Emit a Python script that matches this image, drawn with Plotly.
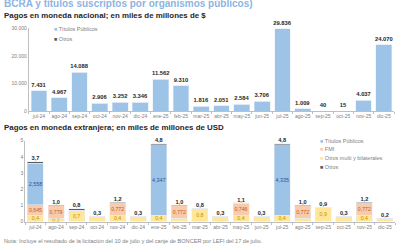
import plotly.graph_objects as go

months = ["jul-24", "ago-24", "sep-24", "oct-24", "nov-24", "dic-24", "ene-25", "feb-25", "mar-25",
          "abr-25", "may-25", "jun-25", "jul-25", "ago-25", "sep-25", "oct-25", "nov-25", "dic-25"]

# Pagos en moneda nacional (miles de millones de $)
ars_titulos = [7431, 4967, 14088, 2906, 3252, 3346, 11562, 9310, 1816,
               2051, 2584, 3706, 29836, 1009, 40, 15, 4037, 24070]
ars_otros = [0] * 18

# Pagos en moneda extranjera (miles de millones de USD)
usd_titulos = [2.558, 0, 0, 0, 0, 0, 4.347, 0, 0, 0, 0, 0, 4.335, 0, 0, 0, 0, 0]
usd_fmi = [0.645, 0.779, 0, 0, 0.772, 0, 0, 0.772, 0, 0, 0.746, 0, 0, 0.772, 0, 0, 0.772, 0]
usd_multi = [0.4, 0.2, 0.7, 0.3, 0.4, 0.3, 0.4, 0.2, 0.8, 0.3, 0.4, 0.3, 0.4, 0.2, 0.9, 0.3, 0.4, 0.2]
usd_otros = [0.1, 0.03, 0.08, 0, 0.03, 0, 0.05, 0.03, 0, 0, 0.03, 0, 0.07, 0.03, 0, 0, 0.03, 0]
usd_totales = [3.7, 1.0, 0.8, 0.3, 1.2, 0.3, 4.8, 1.0, 0.8, 0.3, 1.1, 0.3, 4.8, 1.0, 0.9, 0.3, 1.2, 0.2]
usd_multi_labels = ["0,4", "0,2", "0,7", "", "0,4", "", "0,4", "", "0,8",
                    "", "0,4", "", "0,4", "", "0,9", "", "0,4", ""]

C_BLUE = "#9DC3E6"
C_FMI = "#F8CBAD"
C_MULTI = "#FFE699"
C_OTROS = "#595959"
GRAY = "#808080"
DARK = "#262626"
FONT = "Liberation Sans"


def fmt_int(v):
    return f"{v:,}".replace(",", ".")


def fmt_dec(v, d):
    return f"{v:.{d}f}".replace(".", ",")


fig = go.Figure()

# --- Top chart ---
fig.add_trace(go.Bar(x=months, y=ars_titulos, marker_color=C_BLUE, name="Títulos Públicos",
                     xaxis="x", yaxis="y", showlegend=False,
                     text=[fmt_int(v) for v in ars_titulos], textposition="outside", textangle=0,
                     constraintext="none",
                     textfont=dict(size=5.8, color=DARK, family=FONT, weight="bold"),
                     cliponaxis=False))
fig.add_trace(go.Bar(x=months, y=ars_otros, marker_color=C_OTROS, name="Otros",
                     xaxis="x", yaxis="y", showlegend=False))

# --- Bottom chart ---
inside = dict(textposition="inside", insidetextanchor="middle", textangle=0, constraintext="none")
fig.add_trace(go.Bar(x=months, y=usd_multi, marker_color=C_MULTI, name="Otros multi y bilaterales",
                     xaxis="x2", yaxis="y2", showlegend=False, text=usd_multi_labels,
                     textfont=dict(size=5.2, color="#BF9000", family=FONT), **inside))
fig.add_trace(go.Bar(x=months, y=usd_fmi, marker_color=C_FMI, name="FMI",
                     xaxis="x2", yaxis="y2", showlegend=False,
                     text=[fmt_dec(v, 3) if v > 0 else "" for v in usd_fmi],
                     textfont=dict(size=5.2, color="#C55A11", family=FONT), **inside))
fig.add_trace(go.Bar(x=months, y=usd_titulos, marker_color=C_BLUE, name="Títulos Públicos",
                     xaxis="x2", yaxis="y2", showlegend=False,
                     text=[fmt_dec(v, 3) if v > 0 else "" for v in usd_titulos],
                     textfont=dict(size=5.4, color="#2F5597", family=FONT), **inside))
fig.add_trace(go.Bar(x=months, y=usd_otros, marker_color=C_OTROS, name="Otros",
                     xaxis="x2", yaxis="y2", showlegend=False, textposition="none"))
fig.add_trace(go.Scatter(x=months, y=usd_totales, mode="text",
                         text=[fmt_dec(v, 1) for v in usd_totales], textposition="top center",
                         textfont=dict(size=5.6, color=DARK, family=FONT, weight="bold"),
                         xaxis="x2", yaxis="y2", showlegend=False, cliponaxis=False))

axis_common = dict(showgrid=False, zeroline=False, showline=True, linecolor="#BFBFBF", linewidth=1,
                   tickfont=dict(size=5, color=GRAY, family=FONT))

fig.update_layout(
    width=400, height=250,
    margin=dict(l=0, r=0, t=0, b=0),
    paper_bgcolor="white", plot_bgcolor="white",
    barmode="stack", bargap=0.22,
    separators=",.",
    font=dict(family=FONT),
    xaxis=dict(domain=[0.072, 0.985], anchor="y", range=[-0.5, 17.5], autorange=False,
               ticks="outside", ticklen=2, tickcolor="#BFBFBF",
               tickson="boundaries", tickangle=0, **axis_common),
    yaxis=dict(domain=[0.556, 0.896], anchor="x", range=[0, 30000], tickvals=[0, 10000, 20000, 30000],
               ticktext=["0", "10.000", "20.000", "30.000"], ticks="", **axis_common),
    xaxis2=dict(domain=[0.063, 0.988], anchor="y2", range=[-0.5, 17.5], autorange=False,
                ticks="outside", ticklen=2, tickcolor="#BFBFBF",
                tickson="boundaries", tickangle=0, **axis_common),
    yaxis2=dict(domain=[0.104, 0.436], anchor="x2", range=[0, 5], tickvals=[0, 1, 2, 3, 4, 5], ticks="",
                **axis_common),
)

ann = [
    dict(text="BCRA y títulos suscriptos por organismos públicos)", x=0.005, y=1.0, xref="paper", yref="paper",
         xanchor="left", yanchor="middle", showarrow=False,
         font=dict(size=10, color="#8DB4E2", family=FONT, weight="bold")),
    dict(text="Pagos en moneda nacional; en miles de millones de $", x=0.005, y=0.948, xref="paper", yref="paper",
         xanchor="left", yanchor="middle", showarrow=False,
         font=dict(size=7.9, color=DARK, family=FONT, weight="bold")),
    dict(text="Pagos en moneda extranjera; en miles de millones de USD", x=0.005, y=0.488, xref="paper",
         yref="paper", xanchor="left", yanchor="middle", showarrow=False,
         font=dict(size=7.9, color=DARK, family=FONT, weight="bold")),
    dict(text="Nota: Incluye el resultado de la licitación del 10 de julio y del canje de BONCER por LEFI del 17 de julio.",
         x=0.005, y=0.026, xref="paper", yref="paper", xanchor="left", yanchor="middle", showarrow=False,
         font=dict(size=5.6, color=GRAY, family=FONT)),
]


def legend_item(x, y, color, label):
    return dict(text=f"<span style='color:{color}'>■</span> {label}", x=x, y=y, xref="paper", yref="paper",
                xanchor="left", yanchor="middle", showarrow=False,
                font=dict(size=5.5, color=GRAY, family=FONT))


ann += [
    legend_item(0.13, 0.892, C_BLUE, "Títulos Públicos"),
    legend_item(0.13, 0.852, C_OTROS, "Otros"),
    legend_item(0.795, 0.436, C_BLUE, "Títulos Públicos"),
    legend_item(0.795, 0.400, C_FMI, "FMI"),
    legend_item(0.795, 0.364, C_MULTI, "Otros multi y bilaterales"),
    legend_item(0.795, 0.328, C_OTROS, "Otros"),
]
fig.update_layout(annotations=ann)

fig.write_html("out.html", config={"displayModeBar": False},
               post_script="document.body.style.margin='0';")
